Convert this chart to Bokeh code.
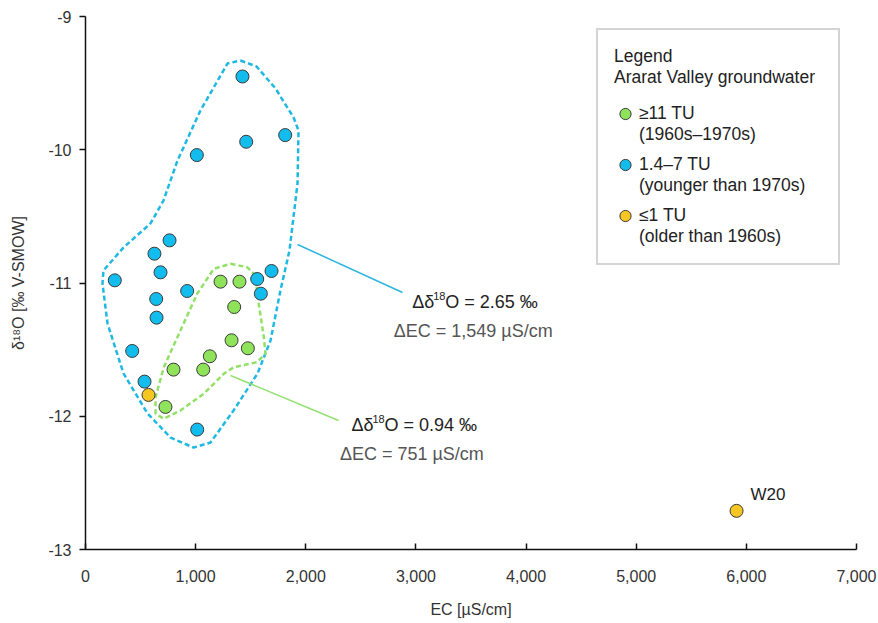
import numpy as np
from bokeh.plotting import figure
from bokeh.models import (Legend, LegendItem, FixedTicker, Label, ColumnDataSource)
from bokeh.embed import file_html
from bokeh.resources import INLINE

# ---------------- data ----------------
# EC [µS/cm] and δ18O [‰ V-SMOW]
green_ec = [1226, 1398, 1350, 1326, 1474, 1129, 799, 1069, 726]
green_d18o = [-10.99, -10.99, -11.18, -11.43, -11.49, -11.55, -11.65, -11.65, -11.93]

blue_ec = [1425, 1459, 1813, 1011, 763, 626, 681, 266, 923, 642, 645, 424, 536, 1014, 1559, 1592, 1689]
blue_d18o = [-9.45, -9.94, -9.89, -10.04, -10.68, -10.78, -10.92, -10.98, -11.06, -11.12,
             -11.26, -11.51, -11.74, -12.10, -10.97, -11.08, -10.91]

orange_ec = [572, 5911]
orange_d18o = [-11.84, -12.71]
orange_names = ["", "W20"]

# hand-drawn envelopes (data units)
blue_env_ec = [1407, 1553, 1725, 1889, 1934, 1925, 1852, 1770, 1680, 1562, 1344, 1135, 981, 772,
               563, 345, 200, 154, 163, 345, 590, 708, 835, 1044, 1289]
blue_env_d18o = [-9.33, -9.375, -9.54, -9.758, -9.856, -10.253, -10.756, -11.056, -11.431, -11.679,
                 -11.957, -12.197, -12.235, -12.16, -11.979, -11.679, -11.304, -11.004, -10.906,
                 -10.734, -10.553, -10.381, -10.081, -9.705, -9.353]
green_env_ec = [1317, 1468, 1543, 1559, 1619, 1634, 1559, 1346, 1256, 1074, 862, 711, 636, 636,
                711, 862, 1014, 1165]
green_env_d18o = [-10.856, -10.881, -10.944, -11.081, -11.407, -11.529, -11.594, -11.632, -11.681,
                  -11.831, -11.957, -12.019, -11.982, -11.857, -11.632, -11.356, -11.081, -10.893]

# leader lines
blue_leader_ec = [1925, 2878]
blue_leader_d18o = [-10.711, -11.071]
green_leader_ec = [1317, 2297]
green_leader_d18o = [-11.694, -12.032]

# annotation texts
blue_delta_o = "2.65 ‰"
blue_delta_ec = "ΔEC = 1,549 µS/cm"
green_delta_o = "0.94 ‰"
green_delta_ec = "ΔEC = 751 µS/cm"

# legend texts
legend_title = "Legend\nArarat Valley groundwater"
legend_main = ["≥11 TU", "1.4–7 TU", "≤1 TU"]
legend_sub = ["(1960s–1970s)", "(younger than 1970s)", "(older than 1960s)"]

x_ticks = [0, 1000, 2000, 3000, 4000, 5000, 6000, 7000]
x_tick_labels = ["0", "1,000", "2,000", "3,000", "4,000", "5,000", "6,000", "7,000"]
y_ticks = [-13, -12, -11, -10, -9]
y_tick_labels = ["-13", "-12", "-11", "-10", "-9"]

BLUE = "#12bdee"
GREEN = "#8fe35a"
ORANGE = "#f6c623"
EDGE = "#3a3a3a"
FONT = "Liberation Sans"

p = figure(width=878, height=623, output_backend="svg", toolbar_location=None,
           x_range=(0, 7000), y_range=(-13, -9))
p.min_border_left = 85
p.min_border_right = 22
p.min_border_top = 16
p.min_border_bottom = 74
p.outline_line_color = None
p.grid.visible = False
p.background_fill_color = "white"

# envelopes
p.line(list(blue_env_ec) + [blue_env_ec[0]], list(blue_env_d18o) + [blue_env_d18o[0]],
       line_color="#1fb8e2", line_width=2.5, line_dash="5 3")
p.line(list(green_env_ec) + [green_env_ec[0]], list(green_env_d18o) + [green_env_d18o[0]],
       line_color="#92e066", line_width=2.5, line_dash="5 3")

# leaders
p.line(blue_leader_ec, blue_leader_d18o, line_color="#2bb5df", line_width=1.5)
p.line(green_leader_ec, green_leader_d18o, line_color="#92e070", line_width=1.5)

rb = p.scatter(blue_ec, blue_d18o, size=13, fill_color=BLUE, line_color=EDGE, line_width=1)
rg = p.scatter(green_ec, green_d18o, size=13, fill_color=GREEN, line_color=EDGE, line_width=1)
osrc = ColumnDataSource(dict(x=orange_ec, y=orange_d18o, name=orange_names))
ro = p.scatter("x", "y", source=osrc, size=13, fill_color=ORANGE, line_color=EDGE, line_width=1)
p.text("x", "y", text="name", source=osrc, x_offset=14, y_offset=-16,
       text_font_size="17px", text_color="#222222", text_baseline="middle", text_align="left",
       text_font={"value": FONT})


def delta_o_label(x, y, val):
    # "Δδ" + superscript "18" + "O = val"
    p.add_layout(Label(x=x, y=y, text="Δδ", text_align="left", text_baseline="middle",
                       text_font=FONT, text_font_size="18px", text_color="#222222"))
    p.add_layout(Label(x=x, y=y, x_offset=21, y_offset=6, text="18", text_align="left",
                       text_baseline="middle", text_font=FONT, text_font_size="11px",
                       text_color="#222222"))
    p.add_layout(Label(x=x, y=y, x_offset=33, text="O = " + val, text_align="left",
                       text_baseline="middle", text_font=FONT, text_font_size="18px",
                       text_color="#222222"))


def ec_label(x, y, t):
    p.add_layout(Label(x=x, y=y, text=t, text_align="center", text_baseline="middle",
                       text_font=FONT, text_font_size="18px", text_color="#555555"))


delta_o_label(2966, -11.139, blue_delta_o)
ec_label(3520, -11.357, blue_delta_ec)
delta_o_label(2415, -12.069, green_delta_o)
ec_label(2963, -12.287, green_delta_ec)

# axes
p.xaxis.ticker = FixedTicker(ticks=x_ticks)
p.xaxis.major_label_overrides = dict(zip(x_ticks, x_tick_labels))
p.yaxis.ticker = FixedTicker(ticks=y_ticks)
p.yaxis.major_label_overrides = dict(zip(y_ticks, y_tick_labels))
p.xaxis.minor_tick_line_color = None
p.yaxis.minor_tick_line_color = None
p.xaxis.major_tick_in = 6
p.xaxis.major_tick_out = 0
p.yaxis.major_tick_in = 0
p.yaxis.major_tick_out = 6
for ax in (p.xaxis, p.yaxis):
    ax.axis_line_color = "#111111"
    ax.axis_line_width = 1.5
    ax.major_tick_line_color = "#111111"
    ax.major_tick_line_width = 1.5
    ax.major_label_text_font = FONT
    ax.major_label_text_font_size = "16px"
    ax.major_label_text_color = "#333333"
    ax.axis_label_text_font = FONT
    ax.axis_label_text_font_size = "16px"
    ax.axis_label_text_font_style = "normal"
    ax.axis_label_text_color = "#333333"
p.xaxis.major_label_standoff = 20
p.yaxis.major_label_standoff = 8
p.xaxis.axis_label = "EC [µS/cm]"
p.yaxis.axis_label = "δ¹⁸O [‰ V-SMOW]"
p.xaxis.axis_label_standoff = 16
p.yaxis.axis_label_standoff = 18


def style_legend(lg):
    lg.label_text_font = FONT
    lg.label_text_font_size = "17.5px"
    lg.label_text_color = "#222222"
    lg.label_standoff = 0
    lg.padding = 16
    lg.margin = 0


# framed legend: title + second lines of each entry
legend_box = Legend(items=[LegendItem(label=t, renderers=[]) for t in legend_sub],
                    title=legend_title, location=(511, 284))
style_legend(legend_box)
legend_box.glyph_width = 25
legend_box.glyph_height = 21
legend_box.spacing = 30
legend_box.title_text_font = FONT
legend_box.title_text_font_size = "17.5px"
legend_box.title_text_font_style = "normal"
legend_box.title_text_color = "#222222"
legend_box.title_standoff = 36
legend_box.label_width = 183
legend_box.border_line_color = "#aaaaaa"
legend_box.border_line_width = 2
legend_box.background_fill_color = "white"
legend_box.background_fill_alpha = 1
p.add_layout(legend_box, "center")

# overlay legend: markers + first lines
legend_marks = Legend(items=[LegendItem(label=t, renderers=[r])
                             for t, r in zip(legend_main, [rg, rb, ro])],
                      location=(526, 318))
style_legend(legend_marks)
legend_marks.glyph_width = 28
legend_marks.glyph_height = 31
legend_marks.spacing = 20
legend_marks.border_line_color = None
legend_marks.background_fill_alpha = 0
p.add_layout(legend_marks, "center")

open("out.html", "w").write(file_html(p, INLINE))
